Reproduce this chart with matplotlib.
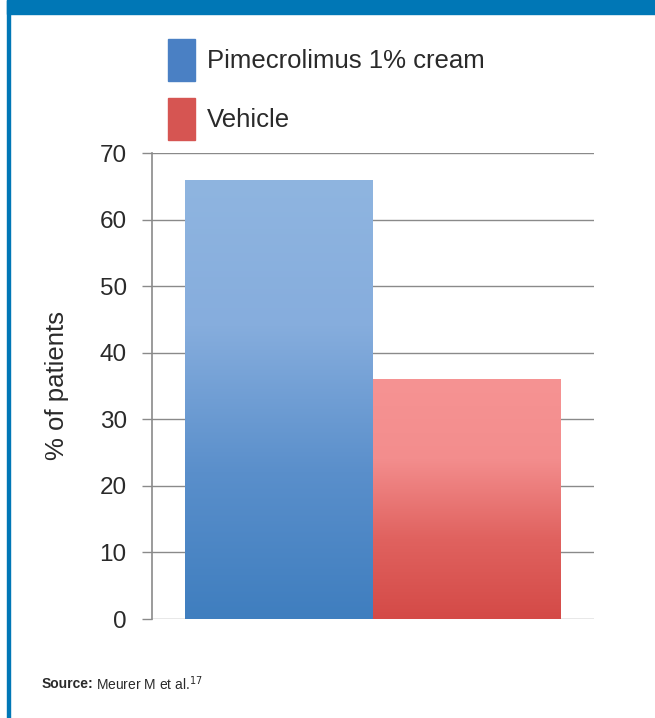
import numpy as np
import matplotlib
matplotlib.use("Agg")
import matplotlib.pyplot as plt
from matplotlib.colors import LinearSegmentedColormap
from matplotlib.patches import Rectangle

# data
groups = ["Pimecrolimus 1% cream", "Vehicle"]
values = [66, 36]
yticks = [0, 10, 20, 30, 40, 50, 60, 70]

# gradient stops (bottom -> top) for each bar
grad_colors = [
    ["#3f7ebf", "#5a8fcb", "#86addd", "#8fb5e0"],
    ["#d44a47", "#e0625f", "#f38d8d", "#f69393"],
]
legend_colors = ["#4a80c4", "#d65552"]

plt.rcParams["font.family"] = ["Liberation Sans", "DejaVu Sans"]
text_color = "#2a2a2a"
grid_color = "#8a8a8a"

fig = plt.figure(figsize=(6.55, 7.18), dpi=100)

# frame: top band and left border
fig.patches.append(Rectangle((7 / 655, 1 - 14 / 718), 1, 14 / 718,
                             transform=fig.transFigure, color="#0077b6", zorder=0))
fig.patches.append(Rectangle((7 / 655, 0), 3 / 655, 1,
                             transform=fig.transFigure, color="#0077b6", zorder=0))

ax = fig.add_axes([151.7 / 655, 1 - 619 / 718, (594 - 151.7) / 655, (619 - 153) / 718])

xs = np.arange(len(values))
bars = ax.bar(xs, values, width=1.0, color="none", zorder=2)
for bar, cols in zip(bars, grad_colors):
    cmap = LinearSegmentedColormap.from_list("g", cols)
    grad = np.linspace(0, 1, 256).reshape(-1, 1)
    x0, y0 = bar.get_x(), bar.get_y()
    im = ax.imshow(grad, cmap=cmap, origin="lower", aspect="auto",
                   extent=[x0, x0 + bar.get_width(), y0, y0 + bar.get_height()],
                   zorder=2)
    im.set_clip_path(bar)

ax.set_xlim(-0.68, 1.68)
ax.set_ylim(0, 70)
ax.set_yticks(yticks)
ax.set_xticks([])
ax.yaxis.grid(True, color=grid_color, linewidth=1.0, zorder=1)
ax.set_axisbelow(True)
for s in ["top", "right", "bottom"]:
    ax.spines[s].set_visible(False)
ax.spines["left"].set_color(grid_color)
ax.spines["left"].set_linewidth(1.2)
ax.tick_params(axis="y", length=7, width=1.0, color=grid_color,
               labelsize=17.5, labelcolor=text_color, pad=11)
ax.set_ylabel("% of patients", fontsize=18.5, color=text_color, labelpad=22)

# legend drawn as squares + text
for i, (name, col) in enumerate(zip(groups, legend_colors)):
    top = 39 + i * 59
    fig.patches.append(Rectangle((168 / 655, 1 - (top + 42) / 718), 27 / 655, 42 / 718,
                                 transform=fig.transFigure, color=col))
    fig.text(207 / 655, 1 - (top + 22) / 718, name, fontsize=18.5,
             color=text_color, va="center", ha="left")

# source note
narrow = ["Liberation Sans Narrow", "Liberation Sans"]
src = fig.text(42 / 655, 1 - 684 / 718, "Source:", fontsize=10, color=text_color,
               va="center", fontweight="bold", family=narrow)
fig.canvas.draw()
bb = src.get_window_extent()
fig.text((bb.x1 + 2) / 655, 1 - 684 / 718, "Meurer M et al.$^{17}$", fontsize=10,
         color=text_color, va="center", family=narrow)

fig.savefig("out.png", dpi=100)
